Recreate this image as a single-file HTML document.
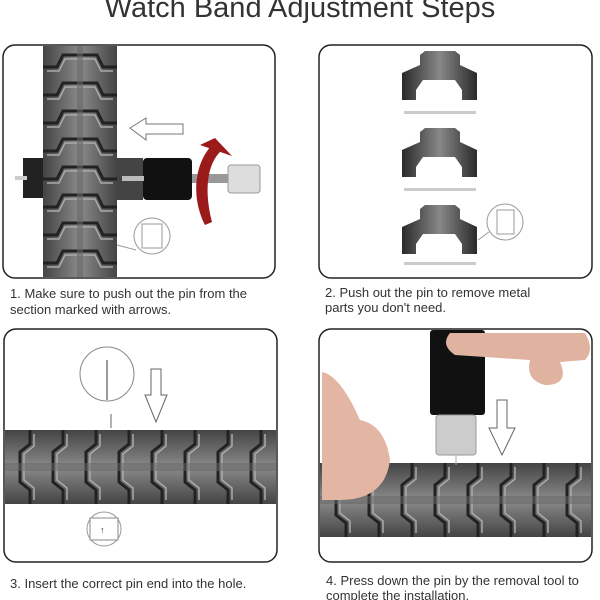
<!DOCTYPE html>
<html><head><meta charset="utf-8"><style>
body{margin:0;width:600px;height:600px;background:#fff;overflow:hidden}
svg{display:block}
text{font-family:"Liberation Sans",sans-serif;fill:#333}
</style></head><body>
<svg width="600" height="600" viewBox="0 0 600 600" xmlns="http://www.w3.org/2000/svg">
<defs>
<linearGradient id="vg" x1="0" x2="1" y1="0" y2="0">
<stop offset="0" stop-color="#444"/><stop offset="0.5" stop-color="#8a8a8a"/><stop offset="1" stop-color="#444"/></linearGradient>
<linearGradient id="hg" x1="0" x2="0" y1="0" y2="1">
<stop offset="0" stop-color="#444"/><stop offset="0.5" stop-color="#8a8a8a"/><stop offset="1" stop-color="#444"/></linearGradient>
<pattern id="vlinks" x="43" y="45" width="74" height="28" patternUnits="userSpaceOnUse">
<rect width="74" height="28" fill="url(#vg)"/>
<path d="M0 22 L14 22 L20 10 L54 10 L60 22 L74 22" fill="none" stroke="#222" stroke-width="3"/>
<path d="M4 26 L16 26 L22 14 L52 14 L58 26 L70 26" fill="none" stroke="#aaa" stroke-width="1.5"/>
</pattern>
<pattern id="hlinks3" x="4" y="430" width="33" height="74" patternUnits="userSpaceOnUse">
<rect width="33" height="74" fill="url(#hg)"/>
<path d="M26 0 L26 14 L16 22 L16 52 L26 60 L26 74" fill="none" stroke="#222" stroke-width="3"/>
<path d="M30 4 L30 16 L20 24 L20 50 L30 58 L30 70" fill="none" stroke="#aaa" stroke-width="1.5"/>
</pattern>
<pattern id="hlinks4" x="320" y="463" width="33" height="74" patternUnits="userSpaceOnUse">
<rect width="33" height="74" fill="url(#hg)"/>
<path d="M26 0 L26 14 L16 22 L16 52 L26 60 L26 74" fill="none" stroke="#222" stroke-width="3"/>
<path d="M30 4 L30 16 L20 24 L20 50 L30 58 L30 70" fill="none" stroke="#aaa" stroke-width="1.5"/>
</pattern>
<linearGradient id="part" x1="0" x2="1"><stop offset="0" stop-color="#2a2a2a"/><stop offset="0.5" stop-color="#888"/><stop offset="1" stop-color="#2a2a2a"/></linearGradient>
</defs>

<text x="300" y="17" font-size="29" text-anchor="middle" fill="#333">Watch Band Adjustment Steps</text>

<!-- Panel 1 -->
<rect x="3" y="45" width="272" height="233" rx="12" fill="#fff" stroke="#222" stroke-width="1.5"/>
<rect x="43" y="46" width="74" height="231" fill="url(#vlinks)"/>
<rect x="77" y="46" width="6" height="231" fill="#666" opacity="0.6"/>
<rect x="23" y="158" width="20" height="40" fill="#222"/>
<rect x="15" y="176" width="12" height="4" fill="#ccc"/>
<rect x="117" y="158" width="26" height="42" fill="#444"/>
<rect x="143" y="158" width="49" height="42" rx="4" fill="#111"/>
<rect x="122" y="176" width="22" height="5" fill="#bbb"/>
<rect x="192" y="174" width="36" height="9" fill="#999"/>
<rect x="228" y="165" width="32" height="28" rx="3" fill="#ddd" stroke="#999"/>
<path d="M205 225 C190 195 195 160 215 142 L222 150 C205 165 205 195 212 222 Z" fill="#9b1b1b"/>
<path d="M200 145 L215 138 L232 156 Z" fill="#9b1b1b"/>
<path d="M130 128 L146 118 L146 124 L183 124 L183 134 L146 134 L146 140 Z" fill="#fff" stroke="#777"/>
<circle cx="152" cy="236" r="18" fill="#fff" stroke="#999"/>
<rect x="142" y="224" width="20" height="24" fill="#fff" stroke="#999"/>
<line x1="117" y1="245" x2="136" y2="250" stroke="#999"/>

<!-- Panel 2 -->
<rect x="319" y="45" width="273" height="233" rx="12" fill="#fff" stroke="#222" stroke-width="1.5"/>
<g id="pc">
<path d="M402 73 L402 100 L416 100 L416 90 L423 80 L455 80 L462 90 L462 100 L477 100 L477 73 L460 65 L460 55 L455 51 L425 51 L420 55 L420 65 Z" fill="url(#part)"/>
</g>
<use href="#pc" y="77"/>
<use href="#pc" y="154"/>
<rect x="404" y="111" width="72" height="3" fill="#ccc"/>
<rect x="404" y="188" width="72" height="3" fill="#ccc"/>
<rect x="404" y="262" width="72" height="3" fill="#ccc"/>
<circle cx="505" cy="222" r="18" fill="#fff" stroke="#999"/>
<rect x="497" y="210" width="17" height="24" fill="#fff" stroke="#999"/>
<line x1="478" y1="240" x2="489" y2="232" stroke="#999"/>

<text x="10" y="298" font-size="13">1. Make sure to push out the pin from the</text>
<text x="10" y="314" font-size="13">section marked with arrows.</text>
<text x="325" y="297" font-size="13">2. Push out the pin to remove metal</text>
<text x="325" y="312" font-size="13">parts you don't need.</text>

<!-- Panel 3 -->
<rect x="4" y="329" width="273" height="233" rx="12" fill="#fff" stroke="#222" stroke-width="1.5"/>
<rect x="5" y="430" width="271" height="74" fill="url(#hlinks3)"/>
<rect x="5" y="463" width="271" height="8" fill="#666" opacity="0.5"/>
<circle cx="107" cy="374" r="27" fill="#fff" stroke="#888"/>
<line x1="107" y1="360" x2="107" y2="400" stroke="#999" stroke-width="2"/>
<line x1="111" y1="414" x2="111" y2="428" stroke="#999" stroke-width="1.5"/>
<path d="M151 369 L161 369 L161 395 L167 395 L156 422 L145 395 L151 395 Z" fill="#fff" stroke="#666"/>
<circle cx="104" cy="529" r="17" fill="#fff" stroke="#999"/>
<rect x="90" y="518" width="28" height="22" fill="#fff" stroke="#888"/>
<text x="100" y="533" font-size="9">↑</text>

<!-- Panel 4 -->
<rect x="319" y="329" width="273" height="233" rx="12" fill="#fff" stroke="#222" stroke-width="1.5"/>
<rect x="320" y="463" width="271" height="74" fill="url(#hlinks4)"/>
<rect x="320" y="496" width="271" height="8" fill="#666" opacity="0.5"/>
<rect x="430" y="330" width="55" height="85" rx="3" fill="#111"/>
<rect x="436" y="415" width="40" height="40" rx="3" fill="#ccc" stroke="#999"/>
<line x1="456" y1="455" x2="456" y2="465" stroke="#aaa"/>
<path d="M450 333 L585 333 Q595 350 585 360 L560 362 Q570 385 545 385 Q525 380 530 360 L455 355 Q440 345 450 333 Z" fill="#e0b2a0"/>
<path d="M322 372 Q340 375 360 420 Q385 425 390 460 Q385 500 340 500 L322 500 Z" fill="#e3b6a4"/>
<path d="M497 400 L507 400 L507 428 L515 428 L502 455 L489 428 L497 428 Z" fill="#fff" stroke="#666"/>

<text x="10" y="588" font-size="13">3. Insert the correct pin end into the hole.</text>
<text x="326" y="585" font-size="13">4. Press down the pin by the removal tool to</text>
<text x="326" y="600" font-size="13">complete the installation.</text>
</svg>
</body></html>
